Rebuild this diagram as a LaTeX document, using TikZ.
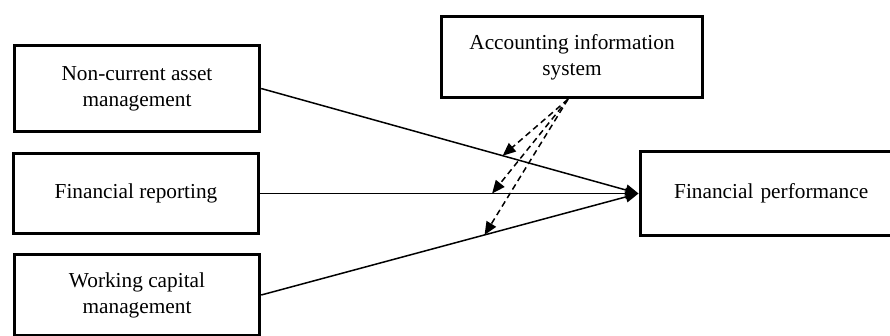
\documentclass[tikz,border=0pt]{standalone}
\usepackage{fontspec}
\setmainfont{Liberation Serif}
\usetikzlibrary{arrows.meta}
\tikzset{
    varbox/.style={draw=black, line width=3.4pt, align=center, inner sep=4pt,
        font=\fontsize{21.3}{26}\selectfont, text=black},
    link/.style={line width=1.5pt, -{Triangle[length=13pt,width=11pt]}},
    modlink/.style={line width=1.5pt, dash pattern=on 6pt off 4pt,
        -{Triangle[length=13pt,width=11pt]}}
}
\begin{document}
\begin{tikzpicture}[x=1pt,y=-1pt]
\clip (0,0) rectangle (890,335);
\useasboundingbox (0,0) rectangle (890,335);

% independent variables
\node (asset) at (137,88.5) [varbox, minimum width=245pt, minimum height=86pt] {Non-current asset\\management};
\node (report) at (136,193.5) [varbox, minimum width=245pt, minimum height=80pt] {Financial reporting};
\node (capital) at (137,295) [varbox, minimum width=245pt, minimum height=81pt] {Working capital\\management};

% moderator and outcome
\node (ais) at (572,57) [varbox, minimum width=261pt, minimum height=81pt] {Accounting information\\system};
\node (perf) at (638.5,193.5) [varbox, anchor=west, align=left, inner xsep=34pt, text width=210pt, minimum height=84pt] {Financial performance};

\draw[link] (asset.east) -- coordinate[pos=0.64] (m1) (perf.west);
\draw[link] (report.east) -- coordinate[pos=0.613] (m2) (perf.west);
\draw[link] (capital.east) -- coordinate[pos=0.592] (m3) (perf.west);

\coordinate (src) at ([xshift=-4pt]ais.south);
\foreach \m in {m1,m2,m3} {
    \draw[modlink] (src) -- (\m);
}
\end{tikzpicture}
\end{document}
